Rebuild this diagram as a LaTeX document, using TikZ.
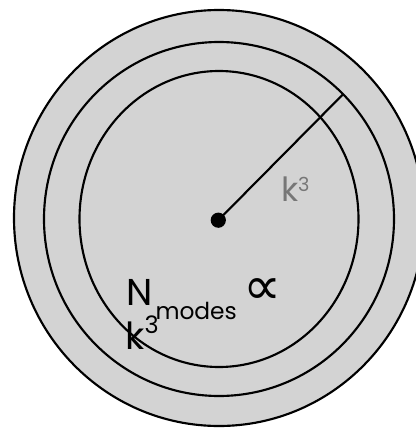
\documentclass[tikz,border=0pt]{standalone}
\usepackage{fontspec}
\setmainfont{Poppins}
\newfontfamily\symfont{DejaVu Sans}
\definecolor{ringfill}{HTML}{D3D3D3}
\definecolor{labelgray}{HTML}{777777}
\begin{document}
\begin{tikzpicture}[x=0.75pt,y=-0.75pt,
  ring/.style={draw=black,line width=1.6pt,fill=ringfill},
  lbl/.style={inner sep=0pt,outer sep=0pt,anchor=base west}]
\useasboundingbox (0,0) rectangle (416,429);
\clip (0,0) rectangle (416,429);
\coordinate (c) at (219,219);
\draw[ring] (219,218) ellipse [x radius=205, y radius=208];
\draw[ring] (c) ellipse [x radius=175, y radius=177];
\draw[ring] (c) ellipse [x radius=139.5, y radius=148];
\node[circle,fill=black,inner sep=0pt,minimum size=11.4pt] (dot) at (218.3,220.2) {};
\coordinate (rim) at (343.3,94);
\draw[line width=1.6pt] (dot.center) -- (rim);
\node[lbl,text=labelgray,font=\fontsize{25}{25}\selectfont] (kr) at (281,201.7)
  {k\raisebox{7.5pt}{\fontsize{14.5}{14.5}\selectfont 3}};
\node[lbl,font=\fontsize{28}{28}\selectfont] (N) at (126.5,305) {N};
\node[lbl,font=\fontsize{17.5}{17.5}\selectfont] (modes) at (155.5,319) {modes};
\node[inner sep=0pt,font=\symfont\fontsize{40}{40}\selectfont] (prop) at (263,291.3) {∝};
\node[lbl,font=\fontsize{28}{28}\selectfont] (k) at (125.5,349)
  {k\raisebox{11.8pt}{\fontsize{18}{18}\selectfont 3}};
\end{tikzpicture}
\end{document}
